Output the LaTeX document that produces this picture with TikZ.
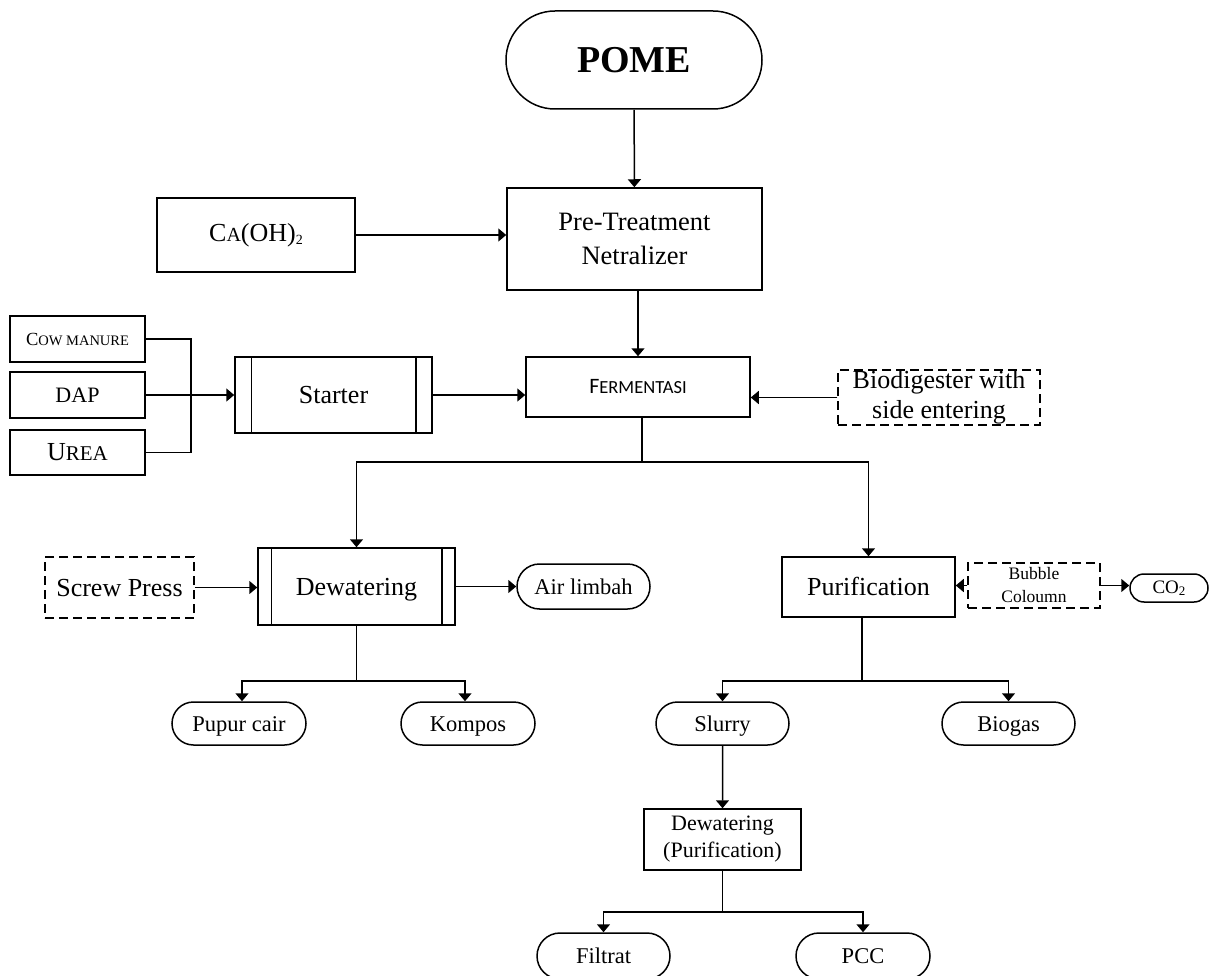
\documentclass[tikz,border=0pt]{standalone}
\usepackage{fontspec}
\setmainfont{Liberation Serif}
\newfontfamily\calfont{Carlito}
\usetikzlibrary{arrows.meta,shapes.misc}
\begin{document}
\begin{tikzpicture}[x=1pt,y=-1pt,
  line width=1.5pt,
  arr/.style={-{Triangle[length=8pt,width=13pt]}},
  box/.style={draw,rectangle,inner sep=0pt,align=center},
  pill/.style={draw,rounded rectangle,inner sep=0pt,align=center},
  dbox/.style={draw,rectangle,inner sep=0pt,align=center,dash pattern=on 9pt off 5pt},
  big/.style={font=\fontsize{26}{30}\selectfont,text height=23pt,text depth=5.6pt},
  small/.style={font=\fontsize{22.5}{26}\selectfont,text height=20pt,text depth=4.9pt}]
\useasboundingbox (0,0) rectangle (1210,976);

% main line
\node[pill,minimum width=256pt,minimum height=98pt,font=\fontsize{38}{40}\selectfont\bfseries] (pome) at (634,60) {POME};
\node[box,minimum width=255pt,minimum height=102pt,font=\fontsize{26.5}{34}\selectfont] (pre) at (634.5,239) {Pre-Treatment\\Netralizer};
\node[box,minimum width=198pt,minimum height=74pt] (ca) at (256,235)
  {\fontsize{26}{28}\selectfont C{\fontsize{20}{22}\selectfont A}(OH)\raisebox{-0.25ex}{\fontsize{14}{16}\selectfont 2}};
\node[box,minimum width=224pt,minimum height=60pt] (ferm) at (638,387)
  {\calfont\fontsize{22}{24}\selectfont F{\fontsize{18.5}{20}\selectfont ERMENTASI}};
\node[dbox,minimum width=202pt,minimum height=55pt,font=\fontsize{26}{30}\selectfont] (bio) at (939,397.5) {Biodigester with\\side entering};
\node[box,big,minimum width=197pt,minimum height=76pt] (starter) at (333.5,395) {Starter};

% starter inputs
\node[box,minimum width=135pt,minimum height=46pt] (cow) at (77.5,339)
  {\fontsize{18.5}{20}\selectfont C{\fontsize{14.5}{16}\selectfont OW MANURE}};
\node[box,minimum width=135pt,minimum height=46pt,font=\fontsize{22}{24}\selectfont] (dap) at (77.5,395) {DAP};
\node[box,minimum width=135pt,minimum height=45pt] (urea) at (77.5,452.5)
  {\fontsize{26}{28}\selectfont U{\fontsize{21}{23}\selectfont REA}};
\coordinate (jn) at (191,395);

% lower level
\node[box,big,minimum width=197pt,minimum height=77pt] (dew) at (356.5,586.5) {Dewatering};
\node[box,big,minimum width=173pt,minimum height=60pt] (pur) at (868.5,587) {Purification};
\node[dbox,big,minimum width=149pt,minimum height=61pt] (screw) at (119.5,587.5) {Screw Press};
\node[pill,small,minimum width=133pt,minimum height=45pt] (air) at (583.5,586.5) {Air limbah};
\node[dbox,minimum width=132pt,minimum height=45pt,font=\fontsize{17.5}{23}\selectfont] (bubble) at (1034,585.5) {Bubble\\Coloumn};
\node[pill,minimum width=78pt,minimum height=28pt] (co2) at (1169,588)
  {\fontsize{19}{20}\selectfont CO\raisebox{-0.25ex}{\fontsize{13}{14}\selectfont 2}};

\node[pill,small,minimum width=134pt,minimum height=43pt] (pupur) at (239,723.5) {Pupur cair};
\node[pill,small,minimum width=134pt,minimum height=43pt] (kompos) at (468,723.5) {Kompos};
\node[pill,small,minimum width=133pt,minimum height=43pt] (slurry) at (722.5,723.5) {Slurry};
\node[pill,small,minimum width=133pt,minimum height=43pt] (biogas) at (1008.5,723.5) {Biogas};
\node[box,minimum width=157pt,minimum height=61pt,font=\fontsize{22}{27}\selectfont] (dp) at (722.5,839.5) {Dewatering\\(Purification)};
\node[pill,small,minimum width=133pt,minimum height=46pt] (filtrat) at (603.5,956) {Filtrat};
\node[pill,small,minimum width=134pt,minimum height=46pt] (pcc) at (863,956) {PCC};

% double side bars of the process boxes
\foreach \n/\d in {starter/17,dew/14}{
  \draw ([xshift=\d pt]\n.north west) -- ([xshift=\d pt]\n.south west);
  \draw ([xshift=-\d pt]\n.north east) -- ([xshift=-\d pt]\n.south east);
}

% split points
\coordinate (fs) at (642,462);
\coordinate (ds) at (356.5,681);
\coordinate (ps) at (862,681);
\coordinate (qs) at (722.5,912);

% connectors
\draw[arr] (pome) -- (pre);
\draw[arr] (ca.east) -- (ca.east -| pre.west);
\draw[arr] (pre.south -| ferm.north) -- (ferm.north);
\draw[arr] (starter.east) -- (starter.east -| ferm.west);
\draw[arr] (bio.west) -- (bio.west -| ferm.east);
\draw (cow.east) -| (jn);
\draw (urea.east) -| (jn);
\draw[arr] (dap.east) -- (starter.west);

\draw (ferm.south -| fs) -- (fs);
\draw[arr] (fs) -| (dew.north);
\draw[arr] (fs) -| (pur.north);

\draw[arr] (screw.east) -- (screw.east -| dew.west);
\draw[arr] (dew.east) -- (dew.east -| air.west);
\draw[arr] (bubble.west) -- (bubble.west -| pur.east);
\draw[arr] (bubble.east) -- (bubble.east -| co2.west);

\draw (dew.south) -- (ds);
\draw[arr] (ds) -| ([xshift=3pt]pupur.north);
\draw[arr] (ds) -| ([xshift=-3pt]kompos.north);

\draw (pur.south -| ps) -- (ps);
\draw[arr] (ps) -| (slurry.north);
\draw[arr] (ps) -| (biogas.north);

\draw[arr] (slurry) -- (dp);
\draw (dp.south) -- (qs);
\draw[arr] (qs) -| (filtrat.north);
\draw[arr] (qs) -| (pcc.north);
\end{tikzpicture}
\end{document}
